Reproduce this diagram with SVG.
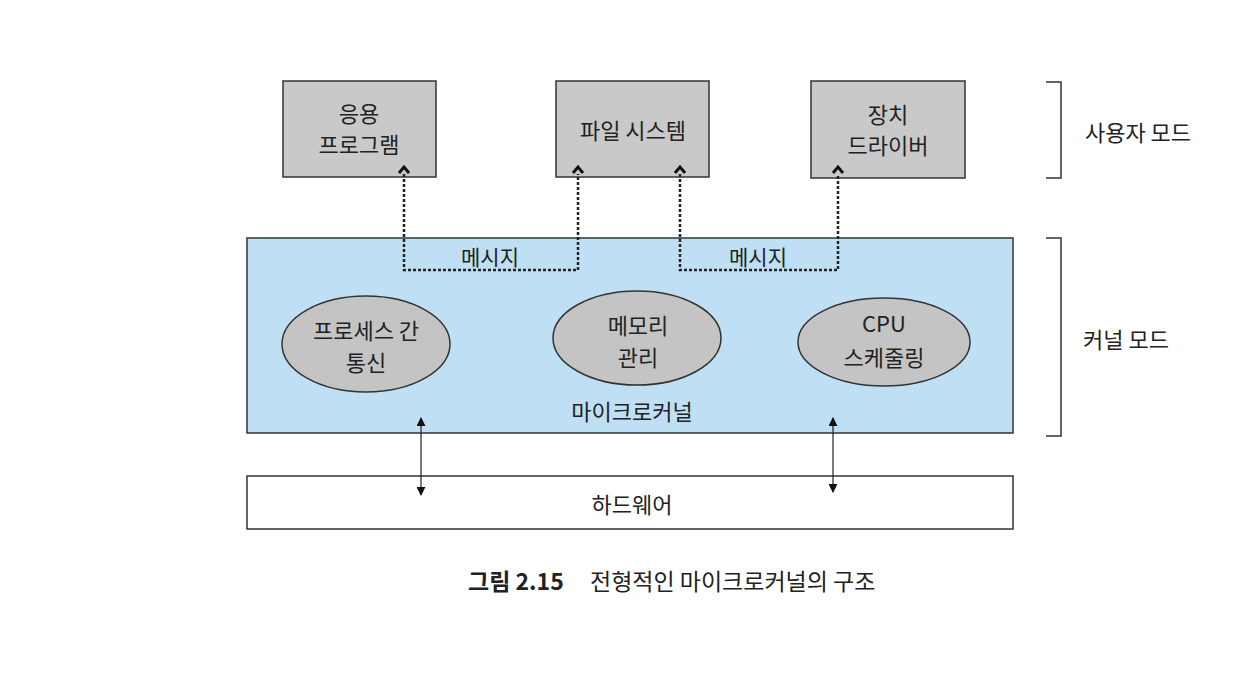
<svg xmlns="http://www.w3.org/2000/svg" width="1235" height="695" viewBox="0 0 1235 695">
<defs>
<style>
text{font-family:"Noto Sans CJK KR","Noto Sans",sans-serif;fill:#222;text-anchor:middle;dominant-baseline:central}
.t{font-size:22px}
.box{fill:#c9c9c9;stroke:#333;stroke-width:1.5}
.ell{fill:#c4c4c4;stroke:#333;stroke-width:1.5}
.dot{fill:none;stroke:#222;stroke-width:2.5;stroke-dasharray:3 2}
.chev{fill:none;stroke:#111;stroke-width:3;stroke-linejoin:miter}
.br{fill:none;stroke:#333;stroke-width:1.5}
.thin{stroke:#222;stroke-width:1.2;fill:none}
</style>
<marker id="ah" viewBox="0 0 10 10" refX="9" refY="5" markerWidth="9" markerHeight="9" markerUnits="userSpaceOnUse" orient="auto-start-reverse"><path d="M0,0 L10,5 L0,10 z" fill="#111"/></marker>
</defs>
<rect width="1235" height="695" fill="#fff"/>
<g id="kernel">
<rect x="247" y="238" width="766" height="195" fill="#bfdff4" stroke="#333" stroke-width="1.5"/>
<text class="t" x="632" y="410">마이크로커널</text>
</g>
<g id="app"><rect class="box" x="283" y="81" width="153" height="96"/><text class="t" x="359" y="112">응용</text><text class="t" x="359" y="143">프로그램</text></g>
<g id="fs"><rect class="box" x="556" y="81" width="153" height="96"/><text class="t" x="633" y="129">파일 시스템</text></g>
<g id="driver"><rect class="box" x="811" y="81" width="154" height="97"/><text class="t" x="888" y="113">장치</text><text class="t" x="888" y="144">드라이버</text></g>
<g id="ipc"><ellipse class="ell" cx="366" cy="344" rx="84" ry="48"/><text class="t" x="366" y="329">프로세스 간</text><text class="t" x="366" y="361">통신</text></g>
<g id="mem"><ellipse class="ell" cx="637" cy="338" rx="84" ry="47"/><text class="t" x="638" y="324">메모리</text><text class="t" x="638" y="356">관리</text></g>
<g id="cpu"><ellipse class="ell" cx="884" cy="342" rx="86" ry="44"/><text class="t" x="884" y="322">CPU</text><text class="t" x="884" y="356">스케줄링</text></g>
<g id="hw"><rect x="247" y="476" width="766" height="53" fill="#fff" stroke="#333" stroke-width="1.5"/><text class="t" x="632" y="503">하드웨어</text></g>
<g id="connectors">
<path class="dot" d="M404,174 V270 H578 V174"/>
<path class="dot" d="M680,174 V270 H838 V174"/>
<path class="chev" d="M399,173 L404,167 L409,173"/>
<path class="chev" d="M573,173 L578,167 L583,173"/>
<path class="chev" d="M675,173 L680,167 L685,173"/>
<path class="chev" d="M833,173 L838,167 L843,173"/>
<text class="t" x="490" y="256" style="font-size:21px">메시지</text>
<text class="t" x="758" y="256" style="font-size:21px">메시지</text>
<line class="thin" x1="421" y1="418" x2="421" y2="495" marker-start="url(#ah)" marker-end="url(#ah)"/>
<line class="thin" x1="833" y1="418" x2="833" y2="492" marker-start="url(#ah)" marker-end="url(#ah)"/>
</g>
<g id="modes">
<path class="br" d="M1046,82 H1061 V178 H1046"/>
<path class="br" d="M1046,238 H1061 V436 H1046"/>
<text class="t" x="1138" y="131">사용자 모드</text>
<text class="t" x="1126" y="338">커널 모드</text>
</g>
<g id="caption">
<text x="468" y="580" style="font-size:23px;font-weight:bold;text-anchor:start">그림 2.15</text>
<text x="590" y="580" style="font-size:23px;text-anchor:start">전형적인 마이크로커널의 구조</text>
</g>
</svg>
